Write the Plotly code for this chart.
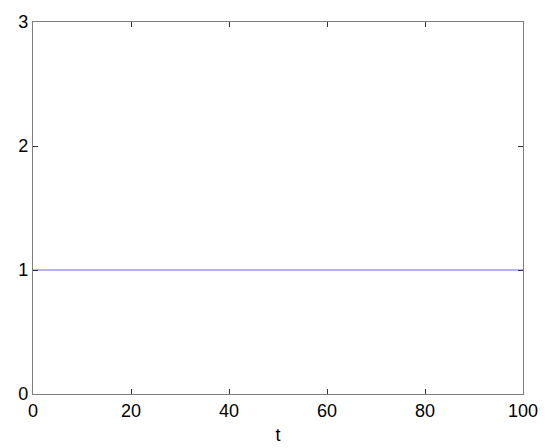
import plotly.graph_objects as go

t_values = [0, 100]
y_values = [1, 1]
x_ticks = [0, 20, 40, 60, 80, 100]
y_ticks = [0, 1, 2, 3]

fig = go.Figure()
fig.add_trace(go.Scatter(x=t_values, y=y_values, mode="lines",
                         line=dict(color="#9a9aff", width=1.5), showlegend=False))

axis_common = dict(showline=True, linecolor="#7f7f7f", linewidth=1.2, mirror="ticks",
                   ticks="inside", ticklen=5, tickcolor="#333333", tickwidth=1,
                   showgrid=False, zeroline=False,
                   tickfont=dict(family="Liberation Sans, Arial", size=18, color="black"))

fig.update_xaxes(range=[0, 100], tickvals=x_ticks, ticktext=[str(v) for v in x_ticks],
                 title=dict(text="t", font=dict(family="Liberation Sans, Arial", size=18, color="black"), standoff=8),
                 **axis_common)
fig.update_yaxes(range=[0, 3], tickvals=y_ticks, ticktext=[str(v) for v in y_ticks],
                 **axis_common)

fig.update_layout(width=542, height=440, margin=dict(l=25, r=27, t=14, b=54, autoexpand=False),
                  paper_bgcolor="white", plot_bgcolor="white")
fig.write_html("out.html")
